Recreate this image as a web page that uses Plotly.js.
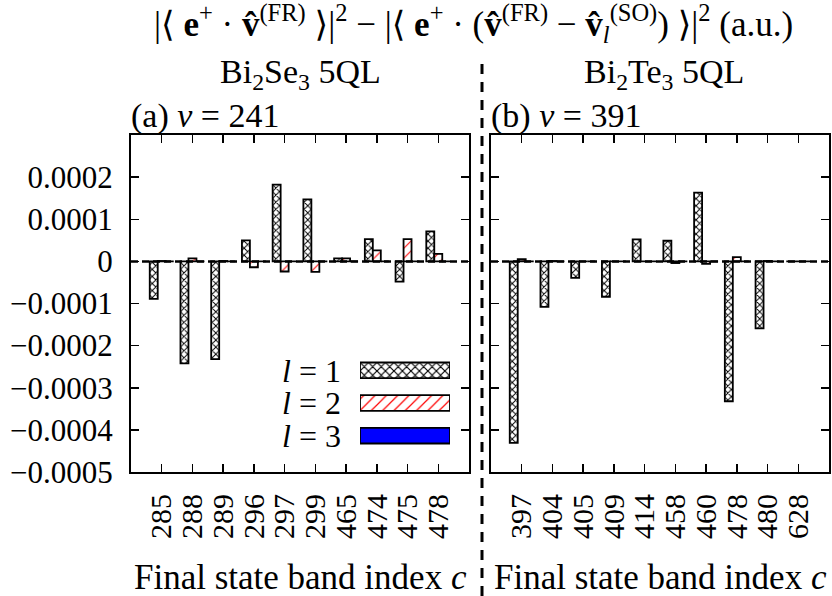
<!DOCTYPE html>
<html>
<head>
<meta charset="utf-8">
<script src="https://cdn.plot.ly/plotly-3.0.1.min.js"></script>
<style>
  body { margin: 0; background: #fff; }
  #myPlot { width: 832px; height: 596px; }
</style>
</head>
<body>
<div id="myPlot"></div>
<script>
        // Panel (a): Bi2Se3, v = 241
        const bandsA = ["285", "288", "289", "296", "297", "299", "465", "474", "475", "478"];
        const l1A = [-0.000089, -0.000242, -0.000232, 0.000050, 0.000182, 0.000147, 0.000007, 0.000053, -0.000048, 0.000071];
        const l2A = [0.000001, 0.000007, 0.000001, -0.000014, -0.000024, -0.000025, 0.000007, 0.000026, 0.000053, 0.000018];
        const l3A = [0, 0, 0, 0, 0, 0, 0, 0, 0, 0];

        // Panel (b): Bi2Te3, v = 391
        const bandsB = ["397", "404", "405", "409", "414", "458", "460", "478", "480", "628"];
        const l1B = [-0.000431, -0.000108, -0.000039, -0.000084, 0.000052, 0.000049, 0.000163, -0.000332, -0.000159, 0];
        const l2B = [0.000005, 0.000001, 0, 0, 0, -0.000004, -0.000006, 0.000010, 0.000001, 0];
        const l3B = [0, 0, 0, 0, 0, 0, 0, 0, 0, 0];

        const yTicks = [-0.0005, -0.0004, -0.0003, -0.0002, -0.0001, 0, 0.0001, 0.0002];
        const yTickText = ["\u22120.0005", "\u22120.0004", "\u22120.0003", "\u22120.0002", "\u22120.0001", "0", "0.0001", "0.0002"];

        const legendLabels = ["<i>l</i> = 1", "<i>l</i> = 2", "<i>l</i> = 3"];

        const serif = "'Liberation Serif', 'DejaVu Serif', 'Times New Roman', Times, serif";

        // bar styles for l = 1, 2, 3
        function barStyle(l) {
            if (l === 1) return { color: "white", line: { color: "black", width: 1.8 },
                pattern: { shape: "x", fgcolor: "black", bgcolor: "white", size: 5, solidity: 0.35 } };
            if (l === 2) return { color: "white", line: { color: "black", width: 1.8 },
                pattern: { shape: "/", fgcolor: "red", bgcolor: "white", size: 7, solidity: 0.15 } };
            return { color: "blue", line: { color: "black", width: 1.8 } };
        }

        function bars(x, y, l, xa, ya) {
            return { x: x, y: y, type: "bar", xaxis: xa, yaxis: ya, marker: barStyle(l),
                     showlegend: false, hoverinfo: "skip" };
        }

        // one key bar per series, all in the same offset group so they do not dodge
        function keyBar(i) {
            const m = barStyle(i + 1);
            if (m.pattern) m.pattern = Object.assign({}, m.pattern, { size: i === 0 ? 6 : 8 });
            return { x: [1], y: [legendLabels[i]], type: "bar", orientation: "h", offsetgroup: "key", width: 0.48,
                     xaxis: "x3", yaxis: "y3", marker: m, showlegend: false, hoverinfo: "skip" };
        }

        const data = [
            bars(bandsA, l1A, 1, "x", "y"),
            bars(bandsA, l2A, 2, "x", "y"),
            bars(bandsA, l3A, 3, "x", "y"),
            bars(bandsB, l1B, 1, "x2", "y2"),
            bars(bandsB, l2B, 2, "x2", "y2"),
            bars(bandsB, l3B, 3, "x2", "y2"),
            keyBar(0), keyBar(1), keyBar(2)
        ];

        const xBase = {
            type: "category", range: [-1, 10], showline: true, linewidth: 2, linecolor: "black",
            mirror: "ticks", ticks: "inside", ticklen: 8, tickwidth: 1.5, tickcolor: "black",
            tickangle: -90, tickfont: { family: serif, size: 30, color: "black" },
            ticklabelstandoff: 8, showgrid: false, zeroline: false, fixedrange: true
        };
        const yBase = {
            range: [-0.0005, 0.0003], tickvals: yTicks, ticktext: yTickText,
            showline: true, linewidth: 2, linecolor: "black", mirror: "ticks", ticks: "inside",
            ticklen: 8, tickwidth: 1.5, tickcolor: "black",
            tickfont: { family: serif, size: 31, color: "black" }, ticklabelstandoff: 10,
            showgrid: false, zeroline: false, fixedrange: true
        };

        const plotTop = 1 - 135 / 596, plotBottom = 1 - 472 / 596;

        const layout = {
            width: 832, height: 596,
            margin: { l: 0, r: 0, t: 0, b: 0 },
            paper_bgcolor: "white", plot_bgcolor: "white",
            barmode: "group", bargap: 0.22, bargroupgap: 0,
            showlegend: false,
            font: { family: serif, color: "black" },
            xaxis: Object.assign({}, xBase, { domain: [131 / 832, 469 / 832], anchor: "y", tickvals: bandsA }),
            yaxis: Object.assign({}, yBase, { domain: [plotBottom, plotTop], anchor: "x" }),
            xaxis2: Object.assign({}, xBase, { domain: [491 / 832, 829 / 832], anchor: "y2", tickvals: bandsB }),
            yaxis2: Object.assign({}, yBase, { domain: [plotBottom, plotTop], anchor: "x2", showticklabels: false }),
            xaxis3: { domain: [360 / 832, 450 / 832], anchor: "y3", range: [0, 1], visible: false, fixedrange: true },
            yaxis3: {
                domain: [1 - 452 / 596, 1 - 354 / 596], anchor: "x3", type: "category", tickvals: legendLabels,
                autorange: "reversed", showline: false, showgrid: false, zeroline: false, ticks: "",
                tickfont: { family: serif, size: 32, color: "black" }, ticklabelstandoff: 18, fixedrange: true
            },
            shapes: [
                { type: "line", xref: "x domain", yref: "y", x0: 0, x1: 1, y0: 0, y1: 0,
                  line: { color: "black", width: 2.5, dash: "7px,4px" } },
                { type: "line", xref: "x2 domain", yref: "y2", x0: 0, x1: 1, y0: 0, y1: 0,
                  line: { color: "black", width: 2.5, dash: "7px,4px" } },
                { type: "line", xref: "paper", yref: "paper", x0: 482 / 832, x1: 482 / 832, y0: 0, y1: 1 - 62 / 596,
                  line: { color: "black", width: 3, dash: "10px,8px" } }
            ],
            annotations: [
                { text: "|\u27E8 <b>e</b><sup>+</sup> \u00B7 <b>v\u0302</b><sup>(FR)</sup> \u27E9|<sup>2</sup> \u2212 |\u27E8 <b>e</b><sup>+</sup> \u00B7 (<b>v\u0302</b><sup>(FR)</sup> \u2212 <b>v\u0302</b><sub><i>l</i></sub><sup>(SO)</sup>) \u27E9|<sup>2</sup> (a.u.)",
                  xref: "paper", yref: "paper", x: 473 / 832, y: 1 - 24 / 596, showarrow: false,
                  xanchor: "center", yanchor: "middle", font: { size: 35 } },
                { text: "Bi<sub>2</sub>Se<sub>3</sub> 5QL", xref: "paper", yref: "paper", x: 300 / 832, y: 1 - 74 / 596,
                  showarrow: false, xanchor: "center", yanchor: "middle", font: { size: 34 } },
                { text: "Bi<sub>2</sub>Te<sub>3</sub> 5QL", xref: "paper", yref: "paper", x: 664 / 832, y: 1 - 74 / 596,
                  showarrow: false, xanchor: "center", yanchor: "middle", font: { size: 34 } },
                { text: "(a) <i>v</i> = 241", xref: "paper", yref: "paper", x: 129 / 832, y: 1 - 116 / 596,
                  showarrow: false, xanchor: "left", yanchor: "middle", font: { size: 34 } },
                { text: "(b) <i>v</i> = 391", xref: "paper", yref: "paper", x: 489 / 832, y: 1 - 116 / 596,
                  showarrow: false, xanchor: "left", yanchor: "middle", font: { size: 34 } },
                { text: "Final state band index <i>c</i>", xref: "paper", yref: "paper", x: 300 / 832, y: 1 - 577 / 596,
                  showarrow: false, xanchor: "center", yanchor: "middle", font: { size: 35 } },
                { text: "Final state band index <i>c</i>", xref: "paper", yref: "paper", x: 660 / 832, y: 1 - 577 / 596,
                  showarrow: false, xanchor: "center", yanchor: "middle", font: { size: 35 } }
            ]
        };

        Plotly.newPlot("myPlot", data, layout, { staticPlot: true });
</script>
</body>
</html>
